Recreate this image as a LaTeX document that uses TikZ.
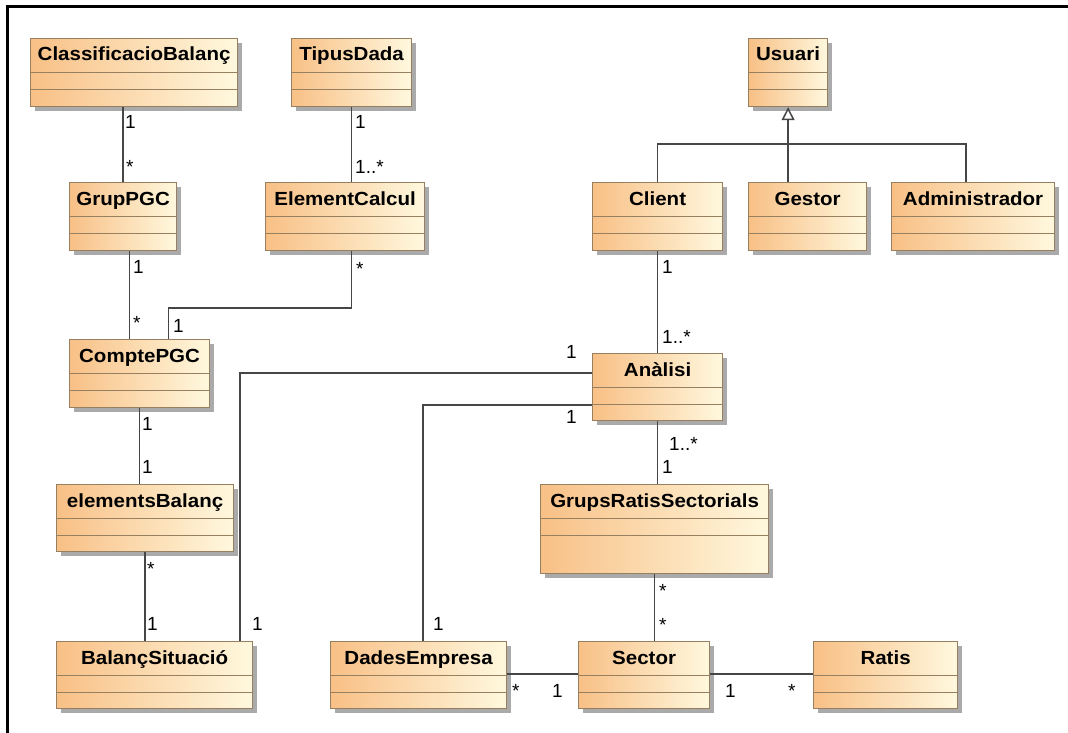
\documentclass[tikz,border=0pt]{standalone}
\usepackage{fontspec}
\setmainfont{Liberation Sans}
\newfontfamily\clsfont{Liberation Sans}[FakeStretch=1.08]
\usetikzlibrary{arrows.meta,calc,positioning,shadows}
\definecolor{clsdark}{RGB}{248,192,134}
\definecolor{clslight}{RGB}{255,248,222}
\definecolor{clsborder}{RGB}{150,128,96}
\definecolor{clsshadow}{RGB}{170,170,170}
\definecolor{linegray}{RGB}{70,70,70}
\tikzset{
  umlclass/.style={draw=clsborder, line width=1.2pt, anchor=north west, inner sep=0pt,
    left color=clsdark, right color=clslight,
    drop shadow={shadow xshift=4pt, shadow yshift=-4pt, fill=clsshadow, opacity=1},
    path picture={
      \draw[clsborder, line width=1.2pt] ([yshift=-34pt]path picture bounding box.north west) -- ([yshift=-34pt]path picture bounding box.north east);
      \draw[clsborder, line width=1.2pt] ([yshift=-51pt]path picture bounding box.north west) -- ([yshift=-51pt]path picture bounding box.north east);
    }},
  clsname/.style={anchor=base, inner sep=0pt, font=\clsfont\bfseries\fontsize{19}{21}\selectfont},
  mult/.style={anchor=base west, inner sep=0pt, font=\fontsize{19}{21}\selectfont},
  assoc/.style={draw=linegray, line width=1.5pt},
}

\begin{document}
\begin{tikzpicture}[x=1pt, y=-1pt]
  \useasboundingbox (0,0) rectangle (1068,733);

  % Frame
  \draw[line width=3pt] (7,733) -- (7,7) -- (1068,7);

  % Class ClassificacioBalanc
  \node[umlclass, minimum width=207pt, minimum height=68pt] (classif) at (30,38) {};
  \node[clsname] (classif-name) at ($(classif.north)+(0,23)$) {ClassificacioBalanç};

  % Class TipusDada
  \node[umlclass, minimum width=120pt, minimum height=68pt] (tipus) at (291,38) {};
  \node[clsname] (tipus-name) at ($(tipus.north)+(0,23)$) {TipusDada};

  % Class Usuari
  \node[umlclass, minimum width=79pt, minimum height=68pt] (usuari) at (748,38) {};
  \node[clsname] (usuari-name) at ($(usuari.north)+(0,23)$) {Usuari};

  % Class GrupPGC
  \node[umlclass, minimum width=107pt, minimum height=68pt] (grup) at (69,182) {};
  \node[clsname] (grup-name) at ($(grup.north)+(0,23)$) {GrupPGC};

  % Class ElementCalcul
  \node[umlclass, minimum width=159pt, minimum height=68pt] (elem) at (265,182) {};
  \node[clsname] (elem-name) at ($(elem.north)+(0,23)$) {ElementCalcul};

  % Class Client
  \node[umlclass, minimum width=130pt, minimum height=68pt] (client) at (592,182) {};
  \node[clsname] (client-name) at ($(client.north)+(0,23)$) {Client};

  % Class Gestor
  \node[umlclass, minimum width=118pt, minimum height=68pt] (gestor) at (748,182) {};
  \node[clsname] (gestor-name) at ($(gestor.north)+(0,23)$) {Gestor};

  % Class Administrador
  \node[umlclass, minimum width=163pt, minimum height=68pt] (admin) at (891,182) {};
  \node[clsname] (admin-name) at ($(admin.north)+(0,23)$) {Administrador};

  % Class ComptePGC
  \node[umlclass, minimum width=140pt, minimum height=68pt] (compte) at (69,339) {};
  \node[clsname] (compte-name) at ($(compte.north)+(0,23)$) {ComptePGC};

  % Class Analisi
  \node[umlclass, minimum width=130pt, minimum height=67pt] (analisi) at (592,353) {};
  \node[clsname] (analisi-name) at ($(analisi.north)+(0,23)$) {Anàlisi};

  % Class elementsBalanc
  \node[umlclass, minimum width=177pt, minimum height=67pt] (elembal) at (56,484) {};
  \node[clsname] (elembal-name) at ($(elembal.north)+(0,23)$) {elementsBalanç};

  % Class GrupsRatisSectorials
  \node[umlclass, minimum width=228pt, minimum height=89pt] (grs) at (540,484) {};
  \node[clsname] (grs-name) at ($(grs.north)+(0,23)$) {GrupsRatisSectorials};

  % Class BalancSituacio
  \node[umlclass, minimum width=196pt, minimum height=67pt] (balanc) at (56,641) {};
  \node[clsname] (balanc-name) at ($(balanc.north)+(0,23)$) {BalançSituació};

  % Class DadesEmpresa
  \node[umlclass, minimum width=176pt, minimum height=67pt] (dades) at (330,641) {};
  \node[clsname] (dades-name) at ($(dades.north)+(0,23)$) {DadesEmpresa};

  % Class Sector
  \node[umlclass, minimum width=131pt, minimum height=67pt] (sector) at (578,641) {};
  \node[clsname] (sector-name) at ($(sector.north)+(0,23)$) {Sector};

  % Class Ratis
  \node[umlclass, minimum width=144pt, minimum height=67pt] (ratis) at (813,641) {};
  \node[clsname] (ratis-name) at ($(ratis.north)+(0,23)$) {Ratis};

  % Generalization Client, Gestor, Administrador -> Usuari
  \coordinate (genbar) at ($(usuari.south)+(0,37)$);
  \coordinate (admin-in) at ($(admin.north)+(-7,0)$);
  \draw[assoc, -{Triangle[open, length=13pt, width=13pt, fill=white]}] (genbar) -- (usuari.south);
  \draw[assoc] (client.north) |- (genbar);
  \draw[assoc] (genbar) -- (genbar |- gestor.north);
  \draw[assoc] (genbar) -| (admin-in);

  % Association ClassificacioBalanc - GrupPGC
  \draw[assoc] (grup.north) -- (grup.north |- classif.south);
  \node[mult] (classif-m1) at (125,129) {1};
  \node[mult] (classif-m2) at (126,173) {*};

  % Association TipusDada - ElementCalcul
  \draw[assoc] (tipus.south) -- (tipus.south |- elem.north);
  \node[mult] (tipus-m1) at (355,129) {1};
  \node[mult] (tipus-m2) at (355,173) {1..*};

  % Association GrupPGC - ComptePGC
  \coordinate (grup-out) at ($(grup.south)+(6.5,0)$);
  \draw[assoc] (grup-out) -- (grup-out |- compte.north);
  \node[mult] (grup-m1) at (133,273) {1};
  \node[mult] (grup-m2) at (133,329) {*};

  % Association ElementCalcul - ComptePGC
  \coordinate (elem-out) at ($(elem.south)+(6.5,0)$);
  \coordinate (compte-in) at ($(compte.north)+(29,0)$);
  \draw[assoc] (elem-out) -- ++(0,57) -| (compte-in);
  \node[mult] (elem-m1) at (356,275) {*};
  \node[mult] (elem-m2) at (173,332) {1};

  % Association ComptePGC - elementsBalanc
  \draw[assoc] (compte.south) -- (compte.south |- elembal.north);
  \node[mult] (compte-m1) at (142,430) {1};
  \node[mult] (compte-m2) at (142,473) {1};

  % Association elementsBalanc - BalancSituacio
  \draw[assoc] (elembal.south) -- (elembal.south |- balanc.north);
  \node[mult] (elembal-m1) at (147,575) {*};
  \node[mult] (elembal-m2) at (147,630) {1};

  % Association Analisi - BalancSituacio
  \coordinate (ana-w1) at ($(analisi.north west)+(0,20)$);
  \coordinate (balanc-in) at ($(balanc.north east)+(-13,0)$);
  \draw[assoc] (ana-w1) -| (balanc-in);
  \node[mult] (ana-m1) at (566,358) {1};
  \node[mult] (balanc-m1) at (252,630) {1};

  % Association Analisi - DadesEmpresa
  \coordinate (ana-w2) at ($(analisi.north west)+(0,52)$);
  \coordinate (dades-in) at ($(dades.north west)+(93,0)$);
  \draw[assoc] (ana-w2) -| (dades-in);
  \node[mult] (ana-m2) at (566,423) {1};
  \node[mult] (dades-m1) at (433,630) {1};

  % Association Client - Analisi
  \draw[assoc] (client.south) -- (client.south |- analisi.north);
  \node[mult] (client-m1) at (662,273) {1};
  \node[mult] (client-m2) at (662,343) {1..*};

  % Association Analisi - GrupsRatisSectorials
  \draw[assoc] (analisi.south) -- (analisi.south |- grs.north);
  \node[mult] (ana-m3) at (669,450) {1..*};
  \node[mult] (grs-m1) at (662,473) {1};

  % Association GrupsRatisSectorials - Sector
  \draw[assoc] (grs.south) -- (grs.south |- sector.north);
  \node[mult] (grs-m2) at (659,597) {*};
  \node[mult] (sector-m1) at (659,631) {*};

  % Association DadesEmpresa - Sector
  \coordinate (dades-e) at ($(dades.north east)+(0,33)$);
  \draw[assoc] (dades-e) -- (dades-e -| sector.west);
  \node[mult] (dades-m2) at (512,697) {*};
  \node[mult] (sector-m2) at (552,697) {1};

  % Association Sector - Ratis
  \coordinate (sector-e) at ($(sector.north east)+(0,33)$);
  \draw[assoc] (sector-e) -- (sector-e -| ratis.west);
  \node[mult] (sector-m3) at (725,697) {1};
  \node[mult] (ratis-m1) at (788,697) {*};
\end{tikzpicture}
\end{document}
